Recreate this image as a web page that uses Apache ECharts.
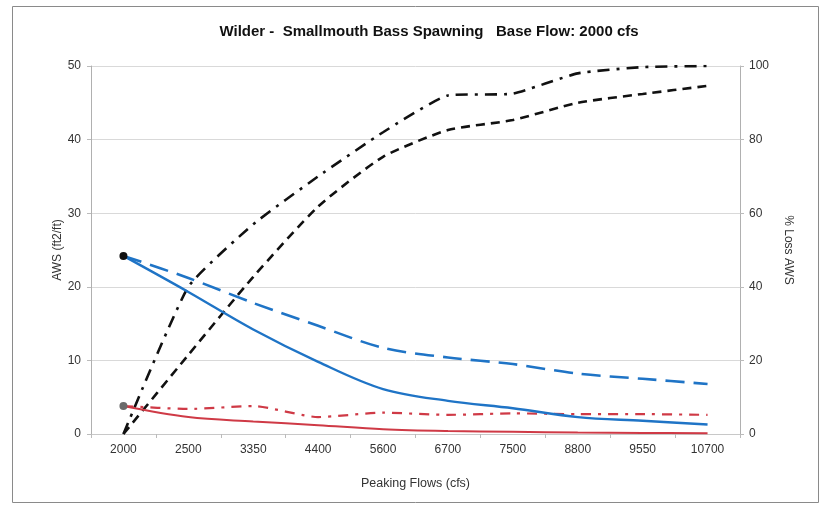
<!DOCTYPE html>
<html>
<head>
<meta charset="utf-8">
<script src="https://cdn.jsdelivr.net/npm/echarts@6/dist/echarts.min.js"></script>
<style>
html,body{margin:0;padding:0;background:#fff;}
#chart{width:820px;height:505px;}
</style>
</head>
<body>
<div id="chart"></div>
<script>
var categories = ['2000','2500','3350','4400','5600','6700','7500','8800','9550','10700'];
var awsBlueSolid = [24.2, 19.3, 14.2, 9.8, 6.1, 4.5, 3.5, 2.3, 1.8, 1.3];
var awsBlueDashed = [24.2, 21.2, 17.8, 14.7, 11.7, 10.4, 9.5, 8.2, 7.5, 6.8];
var awsRedSolid = [3.8, 2.3, 1.7, 1.2, 0.65, 0.4, 0.3, 0.2, 0.15, 0.1];
var awsRedDashDot = [3.8, 3.4, 3.8, 2.3, 2.9, 2.6, 2.8, 2.7, 2.7, 2.6];
var lossDashed = [0, 21.5, 42.7, 61.8, 75.3, 82.6, 85.3, 90.0, 92.4, 94.6];
var lossDashDot = [0, 40.0, 57.0, 70.0, 82.0, 92.0, 92.5, 98.0, 99.7, 100];
var leftTicks = [0, 10, 20, 30, 40, 50];
var rightTicks = [0, 20, 40, 60, 80, 100];

function firstDot(arr, color) {
  return arr.map(function (v, i) {
    if (i === 0) {
      return { value: v, symbol: 'circle', symbolSize: 8, itemStyle: { color: color, borderWidth: 0 } };
    }
    return { value: v, symbol: 'none' };
  });
}

var chart = echarts.init(document.getElementById('chart'));
var blue = '#1f74c6';
var red = '#cf3a46';
var font = 'Liberation Sans, Arial, sans-serif';

chart.setOption({
  animation: false,
  backgroundColor: '#fff',
  graphic: [{
    type: 'rect', left: 10, top: 4, shape: { width: 806, height: 496 },
    style: { fill: 'none', stroke: '#8a8a8a', lineWidth: 1 }, silent: true
  }],
  title: {
    text: 'Wilder -  Smallmouth Bass Spawning   Base Flow: 2000 cfs',
    left: 424, top: 19, textAlign: 'center',
    textStyle: { fontFamily: font, fontSize: 15, fontWeight: 'bold', color: '#111' }
  },
  grid: { left: 91, right: 80, top: 66, bottom: 71 },
  xAxis: {
    type: 'category', data: categories, boundaryGap: true,
    name: 'Peaking Flows (cfs)', nameLocation: 'middle', nameGap: 43,
    nameTextStyle: { fontFamily: font, fontSize: 12.5, color: '#333' },
    axisLine: { show: true, lineStyle: { color: '#c8c8c8', width: 1 } },
    axisTick: { show: true, length: 4, lineStyle: { color: '#bbb' } },
    axisLabel: { fontFamily: font, fontSize: 12, color: '#333', margin: 10 }
  },
  yAxis: [{
    type: 'value', min: 0, max: 50, interval: 10, position: 'left',
    name: 'AWS (ft2/ft)', nameLocation: 'middle', nameGap: 27, nameRotate: 90,
    nameMoveOverlap: false,
    nameTextStyle: { fontFamily: font, fontSize: 12, color: '#333' },
    axisLine: { show: true, lineStyle: { color: '#b0b0b0', width: 1 } },
    axisTick: { show: true, length: 4, lineStyle: { color: '#bbb' } },
    axisLabel: { fontFamily: font, fontSize: 12, color: '#333', margin: 10,
      formatter: function (v) { return leftTicks.indexOf(v) >= 0 ? String(v) : ''; } },
    splitLine: { show: true, lineStyle: { color: '#d9d9d9', width: 1 } }
  }, {
    type: 'value', min: 0, max: 100, interval: 20, position: 'right',
    name: '% Loss AWS', nameLocation: 'middle', nameGap: 42, nameRotate: -90,
    nameMoveOverlap: false,
    nameTextStyle: { fontFamily: font, fontSize: 12, color: '#333' },
    axisLine: { show: true, lineStyle: { color: '#b0b0b0', width: 1 } },
    axisTick: { show: true, length: 4, lineStyle: { color: '#bbb' } },
    axisLabel: { fontFamily: font, fontSize: 12, color: '#333', margin: 9,
      formatter: function (v) { return rightTicks.indexOf(v) >= 0 ? String(v) : ''; } },
    splitLine: { show: false }
  }],
  series: [{
    name: 'Loss dashed', type: 'line', yAxisIndex: 1, data: lossDashed,
    symbol: 'none', smooth: 0.2,
    lineStyle: { color: '#111', width: 2.6, type: [9, 6] }, z: 2
  }, {
    name: 'Loss dash-dot', type: 'line', yAxisIndex: 1, data: lossDashDot,
    symbol: 'none', smooth: 0.15,
    lineStyle: { color: '#111', width: 2.6, type: [12, 7, 3, 7] }, z: 2
  }, {
    name: 'AWS blue dashed', type: 'line', yAxisIndex: 0, data: awsBlueDashed,
    symbol: 'none', smooth: 0.3,
    lineStyle: { color: blue, width: 2.6, type: [19, 9] }, z: 3
  }, {
    name: 'AWS blue', type: 'line', yAxisIndex: 0, data: firstDot(awsBlueSolid, '#111'),
    smooth: 0.35, showAllSymbol: true,
    lineStyle: { color: blue, width: 2.4, type: 'solid' }, itemStyle: { color: '#111' }, z: 4
  }, {
    name: 'AWS red dash-dot', type: 'line', yAxisIndex: 0, data: awsRedDashDot,
    symbol: 'none', smooth: 0.2,
    lineStyle: { color: red, width: 2.2, type: [10, 7, 3, 7] }, z: 3
  }, {
    name: 'AWS red', type: 'line', yAxisIndex: 0, data: firstDot(awsRedSolid, '#6b6b6b'),
    smooth: 0.35, showAllSymbol: true,
    lineStyle: { color: red, width: 2, type: 'solid' }, itemStyle: { color: '#6b6b6b' }, z: 4
  }]
});
</script>
</body>
</html>
